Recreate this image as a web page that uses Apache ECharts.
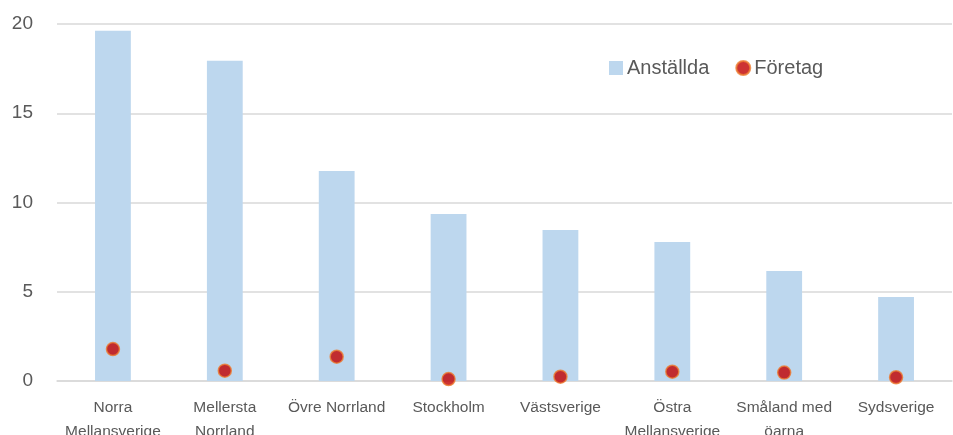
<!DOCTYPE html>
<html><head><meta charset="utf-8">
<script src="https://cdn.jsdelivr.net/npm/echarts@6/dist/echarts.min.js"></script>
<style>html,body{margin:0;padding:0;background:#fff}#c{width:953px;height:435px}</style>
</head><body><div id="c"></div>
<script>
const categories = ["Norra\nMellansverige","Mellersta\nNorrland","Övre Norrland","Stockholm","Västsverige","Östra\nMellansverige","Småland med\nöarna","Sydsverige"];
const anstallda = [19.62, 17.94, 11.76, 9.36, 8.46, 7.79, 6.16, 4.71];
const foretag = [1.79, 0.58, 1.36, 0.11, 0.24, 0.52, 0.47, 0.21];
const yTicks = [0, 5, 10, 15, 20];
const font = "'Liberation Sans', Arial, sans-serif";
const chart = echarts.init(document.getElementById('c'));
chart.setOption({
  animation: false,
  grid: {left: 57, right: 1, top: 24, bottom: 54, outerBoundsMode: 'none', containLabel: false},
  legend: {
    top: 53, left: 604, itemGap: 26, itemWidth: 14, itemHeight: 14,
    textStyle: {fontFamily: font, fontSize: 20, color: '#595959', padding: [0,0,0,-1]},
    data: [{name: 'Anställda', icon: 'rect'}, {name: 'Företag', icon: 'circle'}]
  },
  xAxis: {
    type: 'category', data: categories,
    axisLine: {lineStyle: {color: '#d9d9d9', width: 1.5}},
    axisTick: {show: false},
    axisLabel: {fontFamily: font, fontSize: 15.5, color: '#595959', margin: 15, lineHeight: 24, interval: 0}
  },
  yAxis: {
    type: 'value', min: 0, max: 20, interval: 5,
    axisLine: {show: false}, axisTick: {show: false},
    splitLine: {lineStyle: {color: '#d9d9d9', width: 1.5}},
    axisLabel: {fontFamily: font, fontSize: 19, color: '#595959', margin: 24,
      formatter: v => yTicks.includes(v) ? String(v) : ''}
  },
  series: [
    {name: 'Anställda', type: 'bar', data: anstallda, barWidth: '32%',
      itemStyle: {color: '#BDD7EE'}},
    {name: 'Företag', type: 'scatter', data: foretag, symbol: 'circle', symbolSize: 13,
      itemStyle: {color: '#C00000', borderColor: '#ED7D31', borderWidth: 1.5}, z: 5}
  ]
});
</script></body></html>
